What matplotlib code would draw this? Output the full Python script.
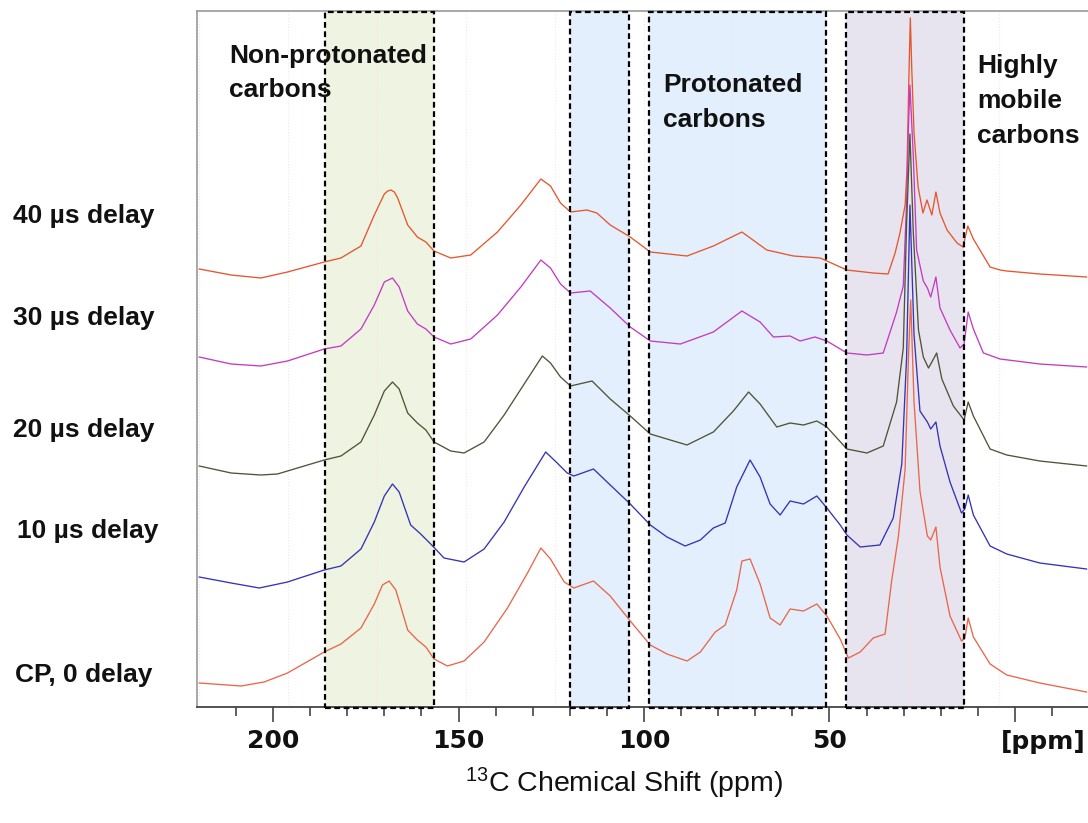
import matplotlib
matplotlib.use("Agg")
import matplotlib.pyplot as plt
from matplotlib.patches import Rectangle
import matplotlib.transforms as mtransforms

plt.rcParams['mathtext.default'] = 'regular'

# 13C NMR spectra, stacked (intensity in arbitrary units, offset already included)
ppm_40 = [219.9, 211.3, 203.3, 196.1, 186.2, 181.7, 176.3, 172.7, 170.0, 169.1, 168.2, 167.3, 166.4,
          165.0, 163.7, 161.1, 158.8, 156.6, 152.1, 146.7, 139.5, 133.2, 127.8, 125.2, 122.5, 119.8,
          115.4, 112.7, 109.1, 103.7, 98.3, 88.4, 81.3, 73.6, 66.9, 59.7, 52.5, 45.3, 38.2, 34.2,
          32.3, 31.0, 29.6, 29.1, 28.6, 28.2, 27.8, 27.2, 26.1, 24.8, 23.7, 22.4, 21.3, 20.2, 18.3,
          15.6, 14.0, 12.7, 11.2, 6.7, 4.0, 2.2, -6.7, -19.3]
int_40 = [438, 432, 429, 435, 445, 449, 461, 492, 513, 516, 517, 515, 509,
          495, 482, 470, 465, 456, 449, 452, 475, 502, 528, 521, 504, 495,
          497, 494, 482, 470, 455, 451, 461, 475, 457, 451, 449, 437, 434, 433,
          454, 474, 502, 537, 627, 689, 637, 574, 520, 494, 507, 492, 515, 494, 477,
          464, 460, 481, 468, 440, 437, 436, 433, 430]

ppm_30 = [219.9, 211.3, 203.3, 196.1, 186.2, 181.7, 176.3, 172.7, 170.0, 167.8, 166.0, 163.7, 161.1,
          158.8, 156.6, 152.1, 146.7, 139.5, 133.2, 127.8, 125.2, 122.5, 119.8, 114.5, 109.1, 103.7,
          98.3, 90.2, 81.3, 73.6, 68.7, 65.1, 60.6, 57.9, 53.9, 50.7, 45.3, 39.9, 35.5, 31.9, 30.1,
          29.2, 28.7, 28.3, 27.9, 27.4, 26.5, 24.7, 23.6, 22.7, 21.3, 20.2, 17.5, 14.8, 13.7, 12.6,
          11.2, 8.5, 4.0, -6.7, -19.3]
int_30 = [350, 343, 341, 346, 358, 361, 378, 402, 425, 429, 420, 396, 383,
          378, 370, 363, 368, 392, 420, 447, 439, 423, 414, 416, 399, 380,
          366, 363, 375, 396, 385, 370, 371, 366, 370, 366, 354, 352, 354, 395, 421,
          506, 580, 622, 590, 551, 457, 426, 419, 410, 430, 399, 377, 359, 363, 395,
          378, 354, 348, 343, 340]

ppm_20 = [219.9, 211.3, 203.3, 198.8, 193.4, 186.2, 181.7, 176.3, 172.7, 170.0, 167.8, 166.0, 163.7,
          161.1, 158.8, 156.6, 152.1, 148.5, 143.1, 137.7, 132.3, 127.4, 125.2, 122.5, 119.8, 114.0,
          109.1, 103.7, 98.3, 88.4, 81.3, 75.9, 71.8, 68.7, 64.2, 60.6, 57.0, 53.4, 50.7, 45.3, 39.9,
          35.5, 31.9, 30.1, 29.2, 28.3, 27.4, 26.0, 24.7, 23.3, 22.4, 21.1, 19.7, 16.6, 13.7, 12.6,
          11.2, 6.7, 2.2, -6.7, -19.3]
int_20 = [241, 234, 232, 233, 239, 247, 251, 265, 292, 316, 325, 318, 294,
          284, 277, 265, 256, 254, 265, 292, 323, 351, 344, 330, 321, 326,
          308, 291, 273, 262, 275, 296, 315, 303, 280, 284, 282, 286, 280, 258, 254,
          261, 305, 359, 484, 573, 475, 377, 350, 339, 345, 354, 328, 301, 287, 305,
          291, 258, 252, 246, 241]

ppm_10 = [219.9, 211.3, 203.7, 196.1, 186.2, 181.7, 176.3, 172.7, 170.0, 167.8, 166.0, 162.9, 160.2,
          157.5, 153.9, 148.5, 143.1, 137.7, 132.3, 126.5, 123.4, 120.7, 118.9, 113.6, 109.1, 103.7,
          98.3, 93.8, 88.9, 84.8, 81.3, 78.1, 75.0, 71.4, 68.7, 66.0, 63.3, 60.6, 57.0, 53.4, 50.7,
          47.1, 45.3, 41.7, 36.4, 32.8, 30.5, 29.2, 28.3, 27.2, 25.6, 23.6, 22.7, 21.3, 20.2, 17.5,
          14.4, 13.5, 12.6, 11.2, 6.7, 2.2, -6.7, -19.3]
int_10 = [130, 124, 119, 125, 137, 141, 158, 185, 211, 223, 215, 182, 173,
          163, 149, 145, 158, 185, 220, 255, 244, 234, 231, 238, 222, 203,
          182, 170, 161, 167, 179, 184, 220, 247, 230, 203, 192, 206, 203, 211, 199,
          182, 172, 160, 162, 189, 243, 350, 502, 372, 296, 285, 278, 285, 261, 225,
          194, 198, 212, 192, 161, 153, 144, 138]

ppm_cp = [219.9, 208.6, 202.4, 196.1, 186.2, 181.7, 176.3, 172.7, 170.5, 168.7, 166.9, 163.7, 161.1,
          158.8, 156.6, 153.0, 148.5, 143.1, 136.8, 131.4, 127.8, 125.2, 121.5, 118.9, 113.6, 109.1,
          103.7, 98.3, 93.8, 88.4, 84.8, 80.8, 78.1, 75.0, 73.6, 71.4, 68.7, 66.0, 63.3, 60.6, 57.0,
          53.4, 50.7, 47.1, 44.9, 41.7, 38.2, 35.0, 33.2, 31.4, 29.6, 28.7, 28.1, 27.2, 25.6, 23.6,
          22.7, 21.3, 20.2, 17.5, 14.4, 13.5, 12.6, 11.2, 6.7, 2.2, -6.7, -19.3]
int_cp = [24, 21, 25, 34, 55, 63, 79, 103, 122, 126, 117, 77, 67,
          60, 48, 41, 46, 65, 99, 134, 159, 148, 125, 119, 126, 111,
          86, 62, 53, 46, 55, 75, 82, 117, 146, 148, 123, 89, 82, 98, 96,
          103, 91, 68, 49, 55, 69, 73, 127, 171, 238, 350, 407, 305, 216, 171,
          167, 180, 140, 91, 66, 69, 89, 70, 43, 32, 24, 15]

delay_labels = ['40 µs delay', '30 µs delay', '20 µs delay', '10 µs delay', 'CP, 0 delay']
line_colors = ['#e4572e', '#c23cc2', '#4f5436', '#3434b4', '#e8674a']

# shaded regions (ppm from, ppm to)
regions = [(186.0, 156.7), (120.0, 104.0), (98.6, 50.9), (45.5, 13.7)]
region_colors = ['#eef3e2', '#e3effc', '#e3effc', '#e8e4ef']

W, H = 1088, 823
fig = plt.figure(figsize=(W / 100, H / 100), dpi=100)
ax = fig.add_axes([197 / W, (H - 707) / H, (W - 197) / W, 696 / H])

trans = mtransforms.blended_transform_factory(ax.transData, ax.transAxes)
for (a, b), c in zip(regions, region_colors):
    ax.add_patch(Rectangle((a, 0), b - a, 1.0, transform=trans, facecolor=c,
                           edgecolor='none', zorder=0))
    ax.add_patch(Rectangle((a, -0.001), b - a, 1.0, transform=trans, facecolor='none',
                           edgecolor='black', lw=1.6, linestyle=(0, (2.6, 1.6)),
                           clip_on=False, zorder=5))

for g in [4.3, 28.25, 52.2, 76.15, 100.1, 124.05, 148.0, 171.95, 195.9, 219.85]:
    ax.axvline(g, color='#f9e0e0', lw=0.7, linestyle=(0, (1, 2)), zorder=1)

series = [(ppm_40, int_40), (ppm_30, int_30), (ppm_20, int_20), (ppm_10, int_10), (ppm_cp, int_cp)]
for (xs, ys), col in zip(series, line_colors):
    ax.plot(xs, ys, color=col, lw=0.95, zorder=3)

ax.set_xlim(220.5, -19.7)
ax.set_ylim(0, 696)
ax.set_yticks([])
ax.set_xticks([200, 150, 100, 50, 0])
ax.set_xticklabels(['200', '150', '100', '50', ''])
ax.set_xticks(range(-10, 220, 10), minor=True)
ax.tick_params(axis='x', which='major', length=11, width=1.2, color='#444444', pad=5,
               labelsize=18)
ax.tick_params(axis='x', which='minor', length=6.5, width=1.2, color='#444444')
for lab in ax.get_xticklabels():
    lab.set_fontweight('bold')
    lab.set_color('#111111')

ax.spines['right'].set_visible(False)
ax.spines['top'].set_color('#a0a0a0')
ax.spines['left'].set_color('#a0a0a0')
ax.spines['bottom'].set_color('#444444')
for s in ['top', 'left', 'bottom']:
    ax.spines[s].set_linewidth(1.3)

fig.text(1043 / W, 1 - 742 / H, '[ppm]', ha='center', va='center', fontsize=18,
         fontweight='bold', color='#111111')

lab_font = dict(family='Liberation Sans', fontweight='bold', fontsize=19, color='#111111')
label_pos = [(13, 223), (13, 325), (13, 437), (17, 538), (15, 682)]
for t, (px, py) in zip(delay_labels, label_pos):
    fig.text(px / W, 1 - py / H, t, ha='left', va='baseline', **lab_font)

region_text = [('Non-protonated', 229, 63), ('carbons', 229, 97),
               ('Protonated', 663, 92), ('carbons', 663, 127),
               ('Highly', 977, 73), ('mobile', 977, 108), ('carbons', 977, 143)]
for t, px, py in region_text:
    fig.text(px / W, 1 - py / H, t, ha='left', va='baseline', zorder=10, **lab_font)

fig.text(624 / W, 1 - 792 / H, r'$^{13}$C Chemical Shift (ppm)', ha='center', va='baseline',
         family='Liberation Sans', fontsize=20.5, color='#111111')

fig.savefig('out.png', dpi=100)
